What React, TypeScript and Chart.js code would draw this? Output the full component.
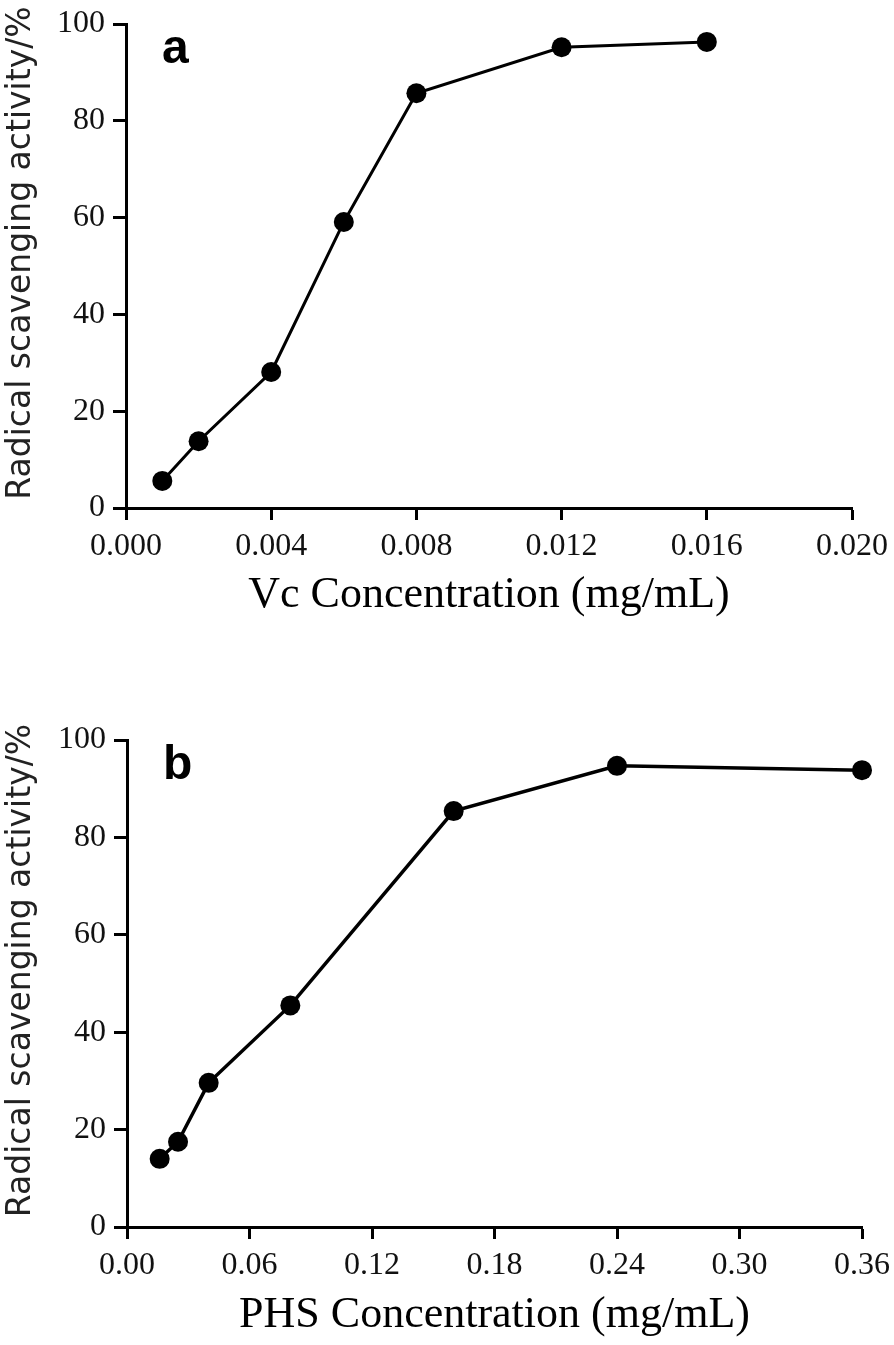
import React, { useEffect, useRef } from "react";
import { Chart, registerables } from "chart.js";

Chart.register(...registerables);

// Panel a: Vc
const vcConcentration = [0.001, 0.002, 0.004, 0.006, 0.008, 0.012, 0.016];
const vcActivity = [5.6, 13.8, 28.1, 59.1, 85.7, 95.2, 96.3];
// Panel b: PHS
const phsConcentration = [0.016, 0.025, 0.04, 0.08, 0.16, 0.24, 0.36];
const phsActivity = [14.0, 17.5, 29.6, 45.5, 85.4, 94.7, 93.8];

const yTitle = "Radical scavenging activity/%";
const xTitleA = "Vc Concentration (mg/mL)";
const xTitleB = "PHS Concentration (mg/mL)";
const panelLabels = ["a", "b"];

const SERIF = "'Times New Roman', 'Liberation Serif', serif";
const SANS = "'DejaVu Sans', Verdana, sans-serif";

type PanelCfg = {
  xs: number[];
  ys: number[];
  xMax: number;
  xStep: number;
  decimals: number;
  xTitle: string;
  label: string;
  padTop: number;
  padRight: number;
  yWidth: number;
  xHeight: number;
  xTitlePad: number;
  lineWidth: number;
};

function makeChart(canvas: HTMLCanvasElement, c: PanelCfg) {
  const labelPlugin = {
    id: "panelLabel",
    afterDraw(chart: any) {
      const { ctx, chartArea } = chart;
      ctx.save();
      ctx.fillStyle = "#000";
      ctx.font = `bold 48px 'Liberation Sans', Arial, sans-serif`;
      ctx.textBaseline = "alphabetic";
      ctx.textAlign = "left";
      ctx.fillText(c.label, chartArea.left + 36, chartArea.top + 39);
      // y-axis title, rotated
      ctx.translate(21, (chartArea.top + chartArea.bottom) / 2 - 13);
      ctx.rotate(-Math.PI / 2);
      ctx.font = `33px ${SANS}`;
      ctx.fillStyle = "#222";
      ctx.textAlign = "center";
      ctx.textBaseline = "middle";
      ctx.fillText(yTitle, 0, 0);
      ctx.restore();
    },
  };
  return new Chart(canvas, {
    type: "line",
    data: {
      datasets: [
        {
          data: c.xs.map((x, i) => ({ x, y: c.ys[i] })),
          borderColor: "#000",
          borderWidth: c.lineWidth,
          backgroundColor: "#000",
          pointRadius: 10,
          pointHoverRadius: 10,
          pointBackgroundColor: "#000",
          pointBorderWidth: 0,
          tension: 0,
          fill: false,
          clip: false,
        },
      ],
    },
    options: {
      animation: false,
      responsive: true,
      maintainAspectRatio: false,
      layout: { padding: { top: c.padTop, right: c.padRight, left: 0, bottom: 0 } },
      plugins: { legend: { display: false }, tooltip: { enabled: false } },
      scales: {
        x: {
          type: "linear",
          min: 0,
          max: c.xMax,
          afterFit(scale: any) {
            scale.height = c.xHeight;
            scale.paddingLeft = 0;
            scale.paddingRight = 0;
          },
          ticks: {
            stepSize: c.xStep,
            color: "#111",
            padding: 7,
            maxRotation: 0,
            autoSkip: false,
            font: { family: SERIF, size: 32 },
            callback: (v: any) => Number(v).toFixed(c.decimals),
          },
          grid: {
            drawOnChartArea: false,
            drawTicks: true,
            tickLength: 12,
            tickWidth: 3,
            tickColor: "#000",
            color: "#000",
          },
          border: { display: true, color: "#000", width: 3 },
          title: {
            display: true,
            text: c.xTitle,
            color: "#000",
            font: { family: SERIF, size: 44 },
            padding: { top: 0, bottom: c.xTitlePad },
          },
        },
        y: {
          type: "linear",
          min: 0,
          max: 100,
          afterFit(scale: any) {
            scale.width = c.yWidth;
            scale.paddingTop = 0;
            scale.paddingBottom = 0;
          },
          ticks: {
            stepSize: 20,
            color: "#111",
            padding: 8,
            font: { family: SERIF, size: 32 },
          },
          grid: {
            drawOnChartArea: false,
            drawTicks: true,
            tickLength: 13,
            tickWidth: 3,
            tickColor: "#000",
            color: "#000",
          },
          border: { display: true, color: "#000", width: 3 },
          title: { display: false },
        },
      },
    },
    plugins: [labelPlugin],
  } as any);
}

function Panel(props: { cfg: PanelCfg; top: number; height: number }) {
  const ref = useRef<HTMLCanvasElement | null>(null);
  useEffect(() => {
    if (!ref.current) return;
    const chart = makeChart(ref.current, props.cfg);
    return () => chart.destroy();
  }, []);
  return (
    <div
      style={{
        position: "absolute",
        left: 0,
        top: props.top,
        width: 894,
        height: props.height,
      }}
    >
      <canvas ref={ref} />
    </div>
  );
}

export default function App() {
  const cfgA: PanelCfg = {
    xs: vcConcentration,
    ys: vcActivity,
    xMax: 0.02,
    xStep: 0.004,
    decimals: 3,
    xTitle: xTitleA,
    label: panelLabels[0],
    padTop: 24,
    padRight: 42,
    yWidth: 126,
    xHeight: 142,
    xTitlePad: 28,
    lineWidth: 3,
  };
  const cfgB: PanelCfg = {
    xs: phsConcentration,
    ys: phsActivity,
    xMax: 0.36,
    xStep: 0.06,
    decimals: 2,
    xTitle: xTitleB,
    label: panelLabels[1],
    padTop: 90,
    padRight: 32,
    yWidth: 127,
    xHeight: 118,
    xTitlePad: 3,
    lineWidth: 3.5,
  };
  return (
    <div style={{ position: "absolute", left: 0, top: 0, width: 894, height: 1345, background: "#fff" }}>
      <Panel cfg={cfgA} top={0} height={650} />
      <Panel cfg={cfgB} top={650} height={695} />
    </div>
  );
}
